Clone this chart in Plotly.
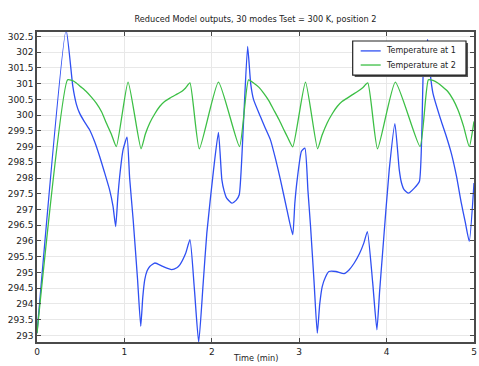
import plotly.graph_objects as go

# Temperature at 1 (blue)
t1 = [0, 0.333, 0.41, 0.45, 0.486, 0.54, 0.60, 0.66, 0.716, 0.77, 0.83, 0.87, 0.90,
      0.925, 0.946, 0.985, 1.03, 1.06, 1.10, 1.15, 1.187, 1.21, 1.233, 1.26, 1.29, 1.35,
      1.44, 1.54, 1.60, 1.636, 1.70, 1.75, 1.80, 1.85, 1.90, 1.943, 2.02, 2.076, 2.115,
      2.14, 2.17, 2.23, 2.28, 2.314, 2.36, 2.41, 2.445, 2.478, 2.555, 2.61, 2.67, 2.73,
      2.785, 2.86, 2.926, 2.95, 2.977, 3.026, 3.065, 3.10, 3.13, 3.17, 3.207, 3.235,
      3.264, 3.30, 3.34, 3.42, 3.513, 3.57, 3.63, 3.69, 3.74, 3.78, 3.84, 3.889, 3.92,
      3.954, 4.03, 4.095, 4.145, 4.17, 4.20, 4.25, 4.317, 4.375, 4.425, 4.47, 4.50,
      4.53, 4.62, 4.68, 4.74, 4.80, 4.855, 4.90, 4.946, 5.0]
T1 = [293.07, 302.7, 300.91, 300.35, 300.07, 299.8, 299.54, 299.15, 298.69, 298.2,
      297.63, 297.1, 296.46, 297.4, 298.05, 298.9, 299.3, 298.0, 296.68, 294.8, 293.29,
      294.2, 294.77, 295.05, 295.19, 295.3, 295.19, 295.09, 295.15, 295.25, 295.6,
      296.04, 294.5, 292.78, 294.6, 296.25, 298.26, 299.45, 297.95, 297.6, 297.36,
      297.2, 297.3, 297.47, 299.6, 302.18, 301.0, 300.49, 299.96, 299.6, 299.22, 298.6,
      297.95, 296.99, 296.2, 297.2, 297.95, 298.85, 298.95, 297.6, 296.46, 294.7,
      293.07, 294.0, 294.56, 294.85, 295.03, 295.03, 294.96, 295.08, 295.3, 295.6,
      295.94, 296.3, 294.7, 293.18, 294.4, 295.62, 298.26, 299.73, 298.26, 297.85,
      297.63, 297.52, 297.68, 297.89, 301.76, 302.4, 301.3, 300.7, 299.85, 299.35,
      298.79, 298.05, 297.2, 296.6, 295.99, 297.84]

# Temperature at 2 (green)
t2 = [0, 0.35, 0.40, 0.45, 0.50, 0.563, 0.62, 0.678, 0.74, 0.793, 0.85, 0.908, 1.042,
      1.19, 1.24, 1.29, 1.35, 1.406, 1.46, 1.52, 1.59, 1.655, 1.70, 1.75, 1.857, 2.076,
      2.317, 2.42, 2.478, 2.54, 2.593, 2.65, 2.708, 2.77, 2.823, 2.87, 2.926, 3.072,
      3.21, 3.26, 3.32, 3.38, 3.437, 3.49, 3.55, 3.61, 3.667, 3.73, 3.785, 3.896, 4.10,
      4.383, 4.478, 4.53, 4.586, 4.64, 4.70, 4.76, 4.816, 4.88, 4.946, 5.0]
T2 = [293.07, 301.12, 301.1, 301.02, 300.9, 300.75, 300.58, 300.38, 300.1, 299.75,
      299.4, 299.0, 301.05, 298.93, 299.4, 299.75, 300.05, 300.28, 300.43, 300.54,
      300.65, 300.75, 300.86, 301.02, 298.93, 301.05, 299.0, 301.12, 301.02, 300.88,
      300.7, 300.47, 300.17, 299.85, 299.54, 299.28, 298.99, 301.05, 298.93, 299.35,
      299.75, 300.05, 300.28, 300.43, 300.54, 300.65, 300.75, 300.88, 301.02, 298.93,
      301.05, 299.0, 301.12, 301.1, 301.02, 300.9, 300.75, 300.5, 300.17, 299.65,
      299.0, 299.8]

series_names = ["Temperature at 1", "Temperature at 2"]
series_colors = ["#2f4ff2", "#3cbf45"]
title_text = "Reduced Model outputs, 30 modes Tset = 300 K, position 2"
x_title = "Time (min)"

fig = go.Figure()
fig.add_trace(go.Scatter(x=t1, y=T1, mode="lines", name=series_names[0],
                         line=dict(color=series_colors[0], width=1.3, shape="spline",
                                   smoothing=0.5),
                         showlegend=False))
fig.add_trace(go.Scatter(x=t2, y=T2, mode="lines", name=series_names[1],
                         line=dict(color=series_colors[1], width=1.3, shape="spline",
                                   smoothing=0.5),
                         showlegend=False))

axis_common = dict(showline=True, linecolor="#4a4a4a", linewidth=1.5, mirror="ticks",
                   ticks="inside", ticklen=4, tickcolor="#4a4a4a", tickwidth=1.2,
                   showgrid=True, gridcolor="#e8e8e8", gridwidth=1, zeroline=False,
                   automargin=False, tickfont=dict(size=9, color="#222"))

# custom legend (paper coords)
lx0, lx1, ly0, ly1 = 0.7224, 0.9817, 0.861, 0.971
shapes = [
    dict(type="rect", xref="paper", yref="paper", x0=lx0 + 0.0046, x1=lx1 + 0.0046,
         y0=ly0 - 0.0065, y1=ly1 - 0.0065, line=dict(width=0), fillcolor="#555",
         layer="above"),
    dict(type="rect", xref="paper", yref="paper", x0=lx0, x1=lx1, y0=ly0, y1=ly1,
         line=dict(color="#222", width=1.2), fillcolor="white", layer="above"),
]
annotations = []
for i, (nm, col) in enumerate(zip(series_names, series_colors)):
    yy = 0.939 - i * 0.0455
    shapes.append(dict(type="line", xref="paper", yref="paper", x0=0.7407, x1=0.7865,
                       y0=yy, y1=yy, line=dict(color=col, width=1.3), layer="above"))
    annotations.append(dict(text=nm, xref="paper", yref="paper", x=0.794, y=yy,
                            xanchor="left", yanchor="middle", showarrow=False,
                            font=dict(size=8, color="#222")))
annotations.append(dict(text=x_title, xref="paper", yref="paper", x=0.5, y=-0.05,
                        xanchor="center", yanchor="middle", showarrow=False,
                        font=dict(size=8.2, color="#222")))

fig.update_layout(
    width=479, height=366,
    margin=dict(l=37, r=5, t=32, b=24),
    paper_bgcolor="white", plot_bgcolor="white",
    font=dict(family="DejaVu Sans", size=9, color="#222"),
    title=dict(text=title_text, x=0.5, xref="paper", xanchor="center", y=0.948,
               yanchor="middle", automargin=False, font=dict(size=8.2, color="#222")),
    xaxis=dict(range=[0, 5], dtick=1, tick0=0, **axis_common),
    yaxis=dict(range=[292.79, 302.64], dtick=0.5, tick0=293, **axis_common),
    shapes=shapes,
    annotations=annotations,
    showlegend=False,
)

fig.write_html("out.html", config={"displayModeBar": False},
               post_script="document.body.style.margin='0';")
